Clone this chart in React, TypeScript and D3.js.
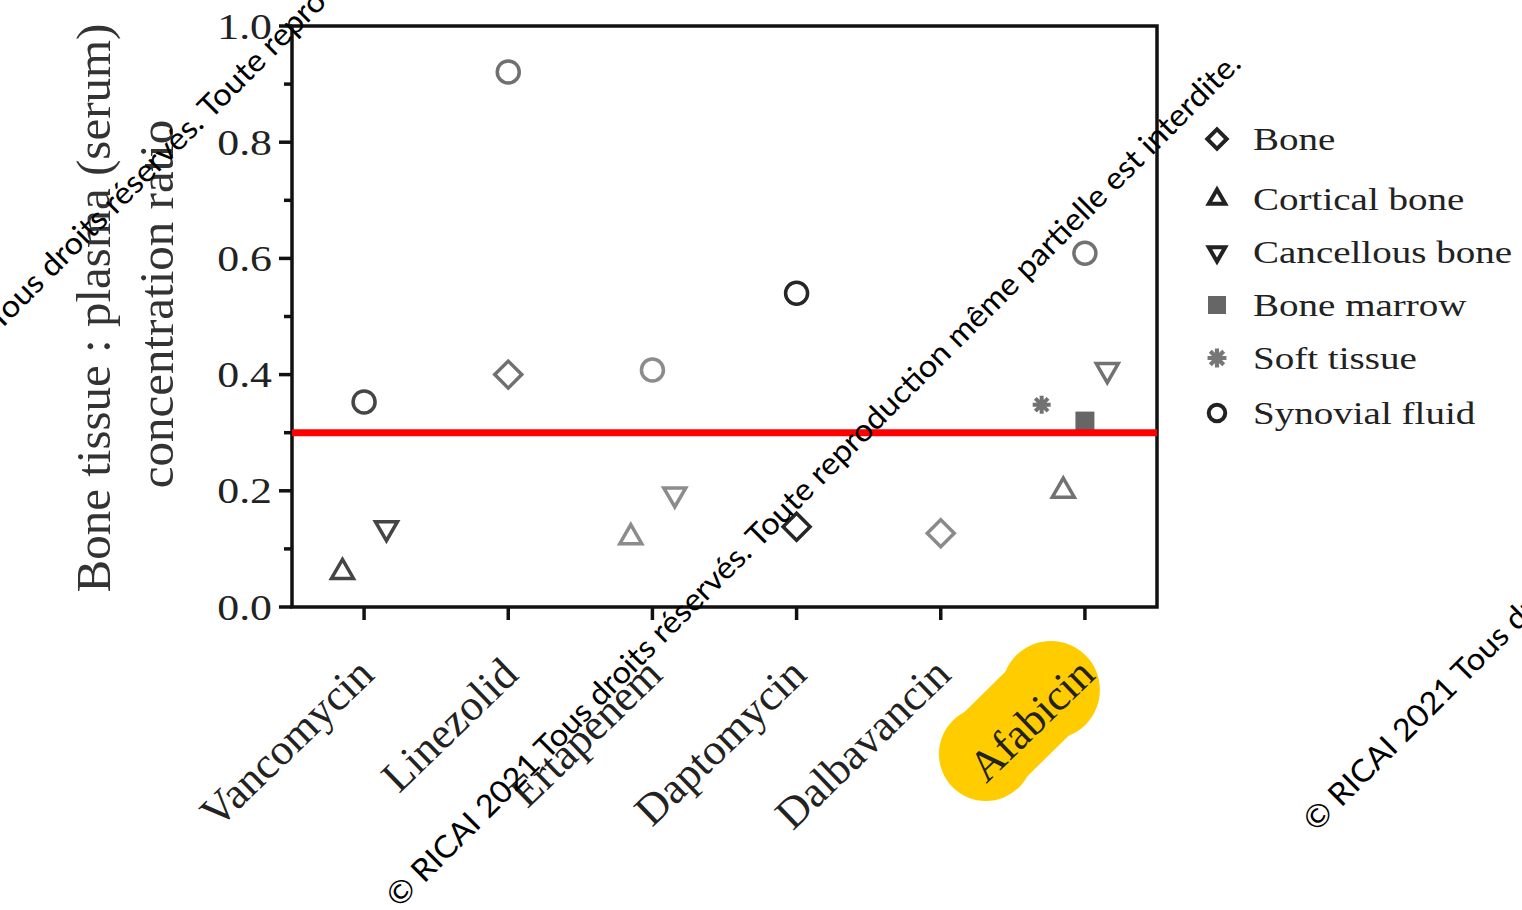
import React from "react";
import * as d3 from "d3";

// Drugs on the x axis
const drugs = ["Vancomycin", "Linezolid", "Ertapenem", "Daptomycin", "Dalbavancin", "Afabicin"];
const highlightedDrug = "Afabicin";

// Bone tissue : plasma (serum) concentration ratios, one array per tissue
const bone = [null, 0.4, null, 0.138, 0.127, null];
const corticalBone = [0.06, null, 0.12, null, null, 0.2];
const cancellousBone = [0.136, null, 0.194, null, null, 0.408];
const boneMarrow = [null, null, null, null, null, 0.32];
const softTissue = [null, null, null, null, null, 0.348];
const synovialFluid = [0.353, 0.921, 0.408, 0.54, null, 0.609];

const threshold = 0.3;

const yMajorTicks = [0, 0.2, 0.4, 0.6, 0.8, 1.0];
const yMinorTicks = [0.1, 0.3, 0.5, 0.7, 0.9];
const yTitle = ["Bone tissue : plasma (serum)", "concentration ratio"];

const watermark =
  "© RICAI 2021 Tous droits réservés. Toute reproduction même partielle est interdite.";

// Grey tone of each drug's markers
const drugTone = ["#454545", "#707070", "#8c8c8c", "#262626", "#8a8a8a", "#727272"];

type Shape = "diamond" | "triangleUp" | "triangleDown" | "square" | "asterisk" | "circle";

const series: {
  name: string;
  values: (number | null)[];
  shape: Shape;
  offset: number;
  legendColor: string;
  legendScale: number;
}[] = [
  { name: "Bone", values: bone, shape: "diamond", offset: 0, legendColor: "#222", legendScale: 0.72 },
  { name: "Cortical bone", values: corticalBone, shape: "triangleUp", offset: -0.15, legendColor: "#222", legendScale: 0.75 },
  { name: "Cancellous bone", values: cancellousBone, shape: "triangleDown", offset: 0.155, legendColor: "#222", legendScale: 0.75 },
  { name: "Bone marrow", values: boneMarrow, shape: "square", offset: 0, legendColor: "#666", legendScale: 0.95 },
  { name: "Soft tissue", values: softTissue, shape: "asterisk", offset: -0.3, legendColor: "#777", legendScale: 1.05 },
  { name: "Synovial fluid", values: synovialFluid, shape: "circle", offset: 0, legendColor: "#222", legendScale: 0.75 },
];

const W = 1522;
const H = 910;
const plot = { left: 292, right: 1157, top: 26, bottom: 607 };
const legendRows = [139, 199, 252, 305, 358, 413];

const SERIF = "'Liberation Serif', 'Times New Roman', serif";

function Marker({ shape, x, y, s, color, sw }: { shape: Shape; x: number; y: number; s: number; color: string; sw: number }) {
  const t = `translate(${x},${y})`;
  if (shape === "circle") {
    return <circle cx={x} cy={y} r={11 * s} fill="none" stroke={color} strokeWidth={sw} />;
  }
  if (shape === "diamond") {
    const side = 13.5 * s * Math.SQRT2;
    const d = d3.symbol(d3.symbolSquare, side * side)() as string;
    return <path d={d} transform={`${t} rotate(45)`} fill="none" stroke={color} strokeWidth={sw} strokeLinejoin="miter" />;
  }
  if (shape === "triangleUp" || shape === "triangleDown") {
    const side = 22 * s;
    const d = d3.symbol(d3.symbolTriangle, (Math.sqrt(3) / 4) * side * side)() as string;
    return (
      <path
        d={d}
        transform={shape === "triangleDown" ? `${t} rotate(180)` : t}
        fill="none"
        stroke={color}
        strokeWidth={sw}
        strokeLinejoin="miter"
      />
    );
  }
  if (shape === "square") {
    const side = 19 * s;
    const d = d3.symbol(d3.symbolSquare, side * side)() as string;
    return <path d={d} transform={t} fill={color} />;
  }
  // asterisk: four crossing strokes
  const r = 9 * s;
  const p = d3.path();
  for (let k = 0; k < 4; k++) {
    const a = (k * Math.PI) / 4;
    p.moveTo(-r * Math.cos(a), -r * Math.sin(a));
    p.lineTo(r * Math.cos(a), r * Math.sin(a));
  }
  return <path d={p.toString()} transform={t} fill="none" stroke={color} strokeWidth={4 * s} />;
}

export default function App() {
  const x = d3.scaleBand<string>().domain(drugs).range([plot.left, plot.right]).padding(0);
  const y = d3.scaleLinear().domain([0, 1]).range([plot.bottom, plot.top]);
  const cx = (d: string) => (x(d) as number) + x.bandwidth() / 2;
  const fmt = d3.format(".1f");

  const labelDx = 12;
  const labelY = 677;
  const hx = cx(highlightedDrug) + 19;
  const hy = 679;

  const legendX = 1217;

  const wmStarts: [number, number][] = [
    [-149, 480],
    [399, 909],
    [1316, 833],
  ];

  return (
    <svg width={W} height={H} style={{ position: "absolute", left: 0, top: 0, background: "#fff" }}>
      <rect width={W} height={H} fill="#fff" />

      {/* Highlight behind the featured drug label */}
      <g fill="#FFCC00" stroke="none">
        <line x1={hx - 118} y1={hy + 75} x2={hx - 54} y2={hy + 12} stroke="#FFCC00" strokeWidth={90} strokeLinecap="round" />
        <circle cx={hx - 118} cy={hy + 75} r={47} />
        <circle cx={hx - 53} cy={hy + 11} r={49} />
      </g>

      {/* Plot frame */}
      <rect
        x={plot.left}
        y={plot.top}
        width={plot.right - plot.left}
        height={plot.bottom - plot.top}
        fill="none"
        stroke="#111"
        strokeWidth={3.5}
      />

      {/* Y ticks */}
      {yMajorTicks.map((v) => (
        <g key={`M${v}`}>
          <line x1={plot.left - 13} x2={plot.left} y1={y(v)} y2={y(v)} stroke="#111" strokeWidth={3.5} />
          <text
            transform={`translate(${plot.left - 20},${y(v) + 12.5}) scale(1.2,1)`}
            textAnchor="end"
            fontFamily={SERIF}
            fontSize={36.5}
            fill="#222"
          >
            {fmt(v)}
          </text>
        </g>
      ))}
      {yMinorTicks.map((v) => (
        <line key={`m${v}`} x1={plot.left - 8} x2={plot.left} y1={y(v)} y2={y(v)} stroke="#111" strokeWidth={3.5} />
      ))}

      {/* Y title */}
      <text transform={`translate(110,308) rotate(-90)`} textAnchor="middle" fontFamily={SERIF} fontSize={49} fill="#333">
        {yTitle[0]}
      </text>
      <text transform={`translate(173,304) rotate(-90)`} textAnchor="middle" fontFamily={SERIF} fontSize={49} fill="#333">
        {yTitle[1]}
      </text>

      {/* X ticks and labels */}
      {drugs.map((d) => (
        <g key={d}>
          <line x1={cx(d)} x2={cx(d)} y1={plot.bottom} y2={plot.bottom + 13} stroke="#111" strokeWidth={3.5} />
          <text
            transform={`translate(${cx(d) + labelDx},${labelY}) rotate(-44)`}
            textAnchor="end"
            fontFamily={SERIF}
            fontSize={44}
            fill="#222"
          >
            {d}
          </text>
        </g>
      ))}

      {/* Data points */}
      {series.map((s) =>
        s.values.map((v, i) =>
          v == null ? null : (
            <Marker
              key={`${s.name}-${i}`}
              shape={s.shape}
              x={cx(drugs[i]) + s.offset * x.bandwidth()}
              y={y(v)}
              s={1}
              color={s.shape === "square" ? "#666" : drugTone[i]}
              sw={3.5}
            />
          )
        )
      )}

      {/* Threshold line */}
      <line x1={plot.left} x2={plot.right} y1={y(threshold)} y2={y(threshold)} stroke="#ff0000" strokeWidth={7} />

      {/* Legend */}
      {series.map((s, i) => (
        <g key={`lg-${s.name}`}>
          <Marker shape={s.shape} x={legendX} y={legendRows[i]} s={s.legendScale} color={s.legendColor} sw={4} />
          <text
            transform={`translate(${legendX + 36},${legendRows[i] + 11}) scale(1.22,1)`}
            fontFamily={SERIF}
            fontSize={32}
            fill="#222"
          >
            {s.name}
          </text>
        </g>
      ))}

      {/* Copyright notice */}
      {wmStarts.map(([wx, wy], i) => (
        <text
          key={`wm${i}`}
          transform={`translate(${wx},${wy}) rotate(-45)`}
          fontFamily="Lato, 'Open Sans', sans-serif"
          fontSize={31}
          fill="#000"
          textLength={1193}
          lengthAdjust="spacingAndGlyphs"
        >
          {watermark}
        </text>
      ))}
    </svg>
  );
}
